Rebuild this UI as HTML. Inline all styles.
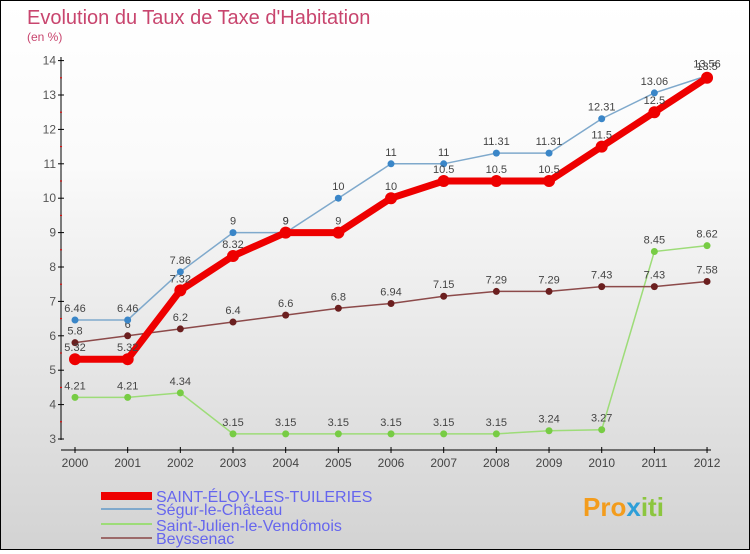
<!DOCTYPE html>
<html><head><meta charset="utf-8"><style>
body{margin:0}
#c{width:748px;height:548px;border:1px solid #000;background:linear-gradient(#fff,#fafafa 30%,#d3d3d3);position:relative;font-family:"Liberation Sans","DejaVu Sans",sans-serif}
</style></head><body>
<div id="c">
<svg width="748" height="548" id="s">
<text x="26" y="23" font-size="20" fill="#c8456e">Evolution du Taux de Taxe d'Habitation</text>
<text x="26" y="40" font-size="12" fill="#c8456e">(en %)</text>
<g id="g"></g>
<g>
<rect x="100" y="491" width="51" height="8" fill="#e00"/>
<text x="155" y="501" font-size="16" fill="#6666ee">SAINT-ÉLOY-LES-TUILERIES</text>
<rect x="100" y="507" width="51" height="2" fill="#7fa9cc"/>
<text x="155" y="514" font-size="16" fill="#6666ee">Ségur-le-Château</text>
<rect x="100" y="522" width="51" height="2" fill="#9ddc78"/>
<text x="155" y="530" font-size="16" fill="#6666ee">Saint-Julien-le-Vendômois</text>
<rect x="100" y="536" width="51" height="2" fill="#9c6a6a"/>
<text x="155" y="543" font-size="16" fill="#6666ee">Beyssenac</text>
</g>
<text x="582" y="515" font-size="26" font-weight="bold" fill="#f39c1c">Pro<tspan fill="#2e9fd8">x</tspan><tspan fill="#8cc63f">iti</tspan></text>
</svg></div>
<script>
const years=[2000,2001,2002,2003,2004,2005,2006,2007,2008,2009,2010,2011,2012];
const yTicks=[3,4,5,6,7,8,9,10,11,12,13,14];
const saintEloy=[5.32,5.32,7.32,8.32,9,9,10,10.5,10.5,10.5,11.5,12.5,13.5];
const segur=[6.46,6.46,7.86,9,9,10,11,11,11.31,11.31,12.31,13.06,13.56];
const saintJulien=[4.21,4.21,4.34,3.15,3.15,3.15,3.15,3.15,3.15,3.24,3.27,8.45,8.62];
const beyssenac=[5.8,6,6.2,6.4,6.6,6.8,6.94,7.15,7.29,7.29,7.43,7.43,7.58];
const X=i=>74+i*52.67, Y=v=>438-(v-3)*34.4;
const g=document.getElementById('g'),NS='http://www.w3.org/2000/svg';
function el(t,a,txt){const e=document.createElementNS(NS,t);for(const k in a)e.setAttribute(k,a[k]);if(txt!=null)e.textContent=txt;g.appendChild(e);return e;}
let e=el('line',{x1:60,y1:56,x2:60,y2:439,stroke:'#000'});

e=el('line',{x1:60,y1:449,x2:710,y2:449,stroke:'#000'});

yTicks.forEach(v=>{const y=Y(v);
 let t=el('line',{x1:57,x2:63,y1:y,y2:y,stroke:'#000'});
 
 t=el('text',{x:55,y:y+4,'font-size':12,fill:'#555','text-anchor':'end'},String(v));
 
 if(v<14){t=el('line',{x1:59,x2:61,y1:y-17.2,y2:y-17.2,stroke:'#e00'});
 }
});
years.forEach((yr,i)=>{const x=X(i);
 let t=el('line',{x1:x,x2:x,y1:446,y2:452,stroke:'#000'});
 
 t=el('text',{x:x,y:466,'font-size':12,fill:'#444','text-anchor':'middle'},String(yr));
 
});
function series(d,name,color,w,r,dot){
 const p=el('polyline',{points:d.map((v,i)=>X(i)+','+Y(v)).join(' '),fill:'none',stroke:color,'stroke-width':w});
 
 d.forEach((v,i)=>{
  const c=el('circle',{cx:X(i),cy:Y(v),r:r,fill:dot});
  
  const t=el('text',{x:X(i),y:Y(v)-8,'font-size':11,fill:'#444','text-anchor':'middle'},String(v));
  
 });
}
series(saintJulien,'saint-julien','#9ddc78',1.5,3.5,'#77cc44');
series(beyssenac,'beyssenac','#8c4a4a',1.5,3.5,'#6b1f1f');
series(segur,'segur','#7fa9cc',1.5,3.5,'#3a86c8');
series(saintEloy,'saint-eloy','#e00',7,6,'#e00');
</script>
</body></html>
